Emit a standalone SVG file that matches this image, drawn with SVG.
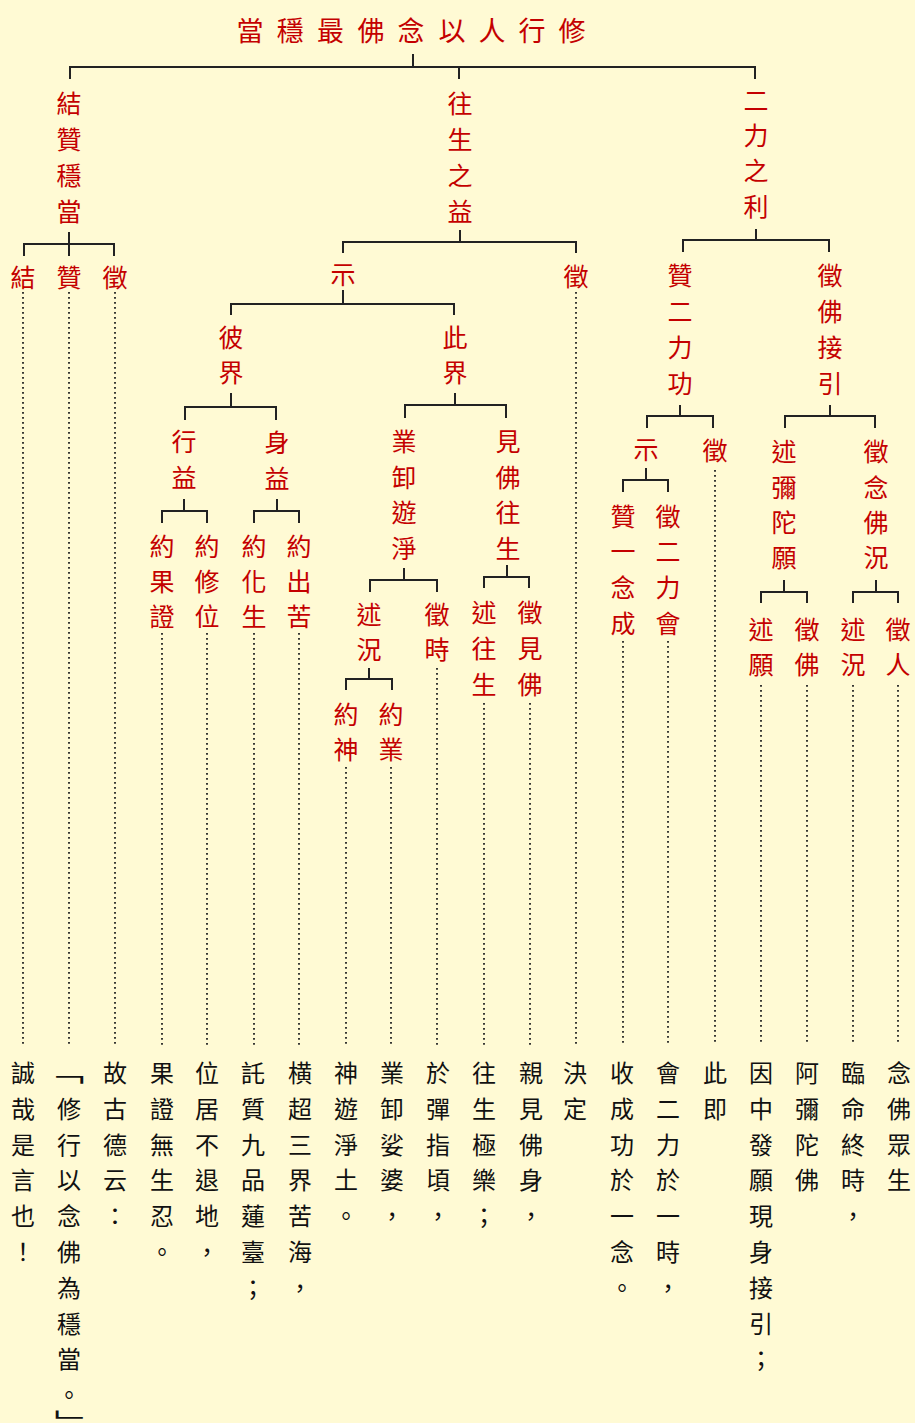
<svg xmlns="http://www.w3.org/2000/svg" width="915" height="1423" viewBox="0 0 915 1423">
<style>
.n{font-family:"Noto Sans CJK TC","Noto Sans CJK SC",sans-serif;font-size:25px;fill:#c40000;text-anchor:middle;dominant-baseline:central}
.h{font-family:"Noto Sans CJK TC","Noto Sans CJK SC",sans-serif;font-size:27px;fill:#c40000;text-anchor:middle;dominant-baseline:central}
.t{font-family:"Noto Sans CJK TC","Noto Sans CJK SC",sans-serif;font-size:24px;fill:#111;text-anchor:middle;dominant-baseline:central}
.b{fill:none;stroke:#222;stroke-width:2}
.d{fill:none;stroke:#222;stroke-width:1.8;stroke-dasharray:1.8 3.2}
</style>
<rect x="0" y="0" width="915" height="1423" fill="#fffad4"/>
<g id="connectors">
<path class="b" d="M413,54V67M70,79V67H755V79M459,67V79"/>
<path class="b" d="M69,232V256M24,256V244H114V256"/>
<path class="b" d="M460,230V242M343,253V242H576V253"/>
<path class="b" d="M756,229V240M683,252V240H829V252"/>
<path class="b" d="M343,290V304M231,315V304H454V315"/>
<path class="b" d="M231,393V407M185,420V407H276V420"/>
<path class="b" d="M455,393V405M405,418V405H506V418"/>
<path class="b" d="M184,499V511M162,523V511H207V523"/>
<path class="b" d="M277,499V511M254,523V511H299V523"/>
<path class="b" d="M404,568V580M370,592V580H437V592"/>
<path class="b" d="M507,565V577M484,588V577H529V588"/>
<path class="b" d="M369,668V679M346,690V679H392V690"/>
<path class="b" d="M680,405V416M647,428V416H713V428"/>
<path class="b" d="M830,405V416M785,428V416H875V428"/>
<path class="b" d="M646,468V480M623,492V480H668V492"/>
<path class="b" d="M784,580V592M761,603V592H807V603"/>
<path class="b" d="M876,580V592M853,603V592H898V603"/>
<path class="d" d="M23,292V1045M69,292V1045M115,292V1045M576,292V1045"/>
<path class="d" d="M162,633V1045M207,633V1045M254,633V1045M299,633V1045"/>
<path class="d" d="M346,767V1045M391,767V1045M437,668V1045M484,703V1045M530,703V1045"/>
<path class="d" d="M623,641V1045M668,641V1045M715,470V1045"/>
<path class="d" d="M761,685V1045M807,685V1045M853,685V1045M898,685V1045"/>
</g>
<g id="root"><text class="h" x="250 290.3 330.6 371 411 452 492 532 572" y="29">當穩最佛念以人行修</text></g>
<g id="n-jiezan"><text class="n" x="69 69 69 69" y="102 138 174 210">結贊穩當</text></g>
<g id="n-wangsheng"><text class="n" x="460 460 460 460" y="102 138 174 210">往生之益</text></g>
<g id="n-erli"><text class="n" x="756 756 756 756" y="99 134 169 205">二力之利</text></g>
<g id="n-jie"><text class="n" x="23" y="276">結</text></g>
<g id="n-zan"><text class="n" x="69" y="276">贊</text></g>
<g id="n-zheng1"><text class="n" x="115" y="276">徵</text></g>
<g id="n-shi1"><text class="n" x="343" y="273">示</text></g>
<g id="n-zheng2"><text class="n" x="576" y="275">徵</text></g>
<g id="n-zanerli"><text class="n" x="680 680 680 680" y="274 310 346 382">贊二力功</text></g>
<g id="n-zhengfo"><text class="n" x="830 830 830 830" y="274 310 346 382">徵佛接引</text></g>
<g id="n-bijie"><text class="n" x="231 231" y="336 371">彼界</text></g>
<g id="n-cijie"><text class="n" x="455 455" y="336 371">此界</text></g>
<g id="n-xingyi"><text class="n" x="184 184" y="440 476">行益</text></g>
<g id="n-shenyi"><text class="n" x="277 277" y="441 477">身益</text></g>
<g id="n-yueguo"><text class="n" x="162 162 162" y="545 580 615">約果證</text></g>
<g id="n-yuexiu"><text class="n" x="207 207 207" y="545 580 615">約修位</text></g>
<g id="n-yuehua"><text class="n" x="254 254 254" y="545 580 615">約化生</text></g>
<g id="n-yuechu"><text class="n" x="299 299 299" y="545 580 615">約出苦</text></g>
<g id="n-yexie"><text class="n" x="404 404 404 404" y="440 476 511 547">業卸遊淨</text></g>
<g id="n-jianfo"><text class="n" x="508 508 508 508" y="440 476 511 547">見佛往生</text></g>
<g id="n-shukuang1"><text class="n" x="369 369" y="613 648">述況</text></g>
<g id="n-zhengshi"><text class="n" x="437 437" y="613 648">徵時</text></g>
<g id="n-yueshen"><text class="n" x="346 346" y="713 748">約神</text></g>
<g id="n-yueye"><text class="n" x="391 391" y="713 748">約業</text></g>
<g id="n-shuwang"><text class="n" x="484 484 484" y="611 647 683">述往生</text></g>
<g id="n-zhengjian"><text class="n" x="530 530 530" y="611 647 683">徵見佛</text></g>
<g id="n-shi2"><text class="n" x="646" y="448">示</text></g>
<g id="n-zheng3"><text class="n" x="715" y="449">徵</text></g>
<g id="n-zanyi"><text class="n" x="623 623 623 623" y="515 550 586 622">贊一念成</text></g>
<g id="n-zhenger"><text class="n" x="668 668 668 668" y="515 550 586 622">徵二力會</text></g>
<g id="n-shumi"><text class="n" x="784 784 784 784" y="450 486 521 556">述彌陀願</text></g>
<g id="n-zhengnian"><text class="n" x="876 876 876 876" y="450 486 521 556">徵念佛況</text></g>
<g id="n-shuyuan"><text class="n" x="761 761" y="628 663">述願</text></g>
<g id="n-zhengfo2"><text class="n" x="807 807" y="628 663">徵佛</text></g>
<g id="n-shukuang2"><text class="n" x="853 853" y="628 663">述況</text></g>
<g id="n-zhengren"><text class="n" x="898 898" y="628 663">徵人</text></g>
<g id="texts">
<text class="t" x="23 23 23 23 23 23" y="1071 1107 1143 1178 1214 1250">誠哉是言也！</text>
<text class="t" transform="translate(65,1071) scale(1.6,1)" x="0" y="0">﹁</text>
<text class="t" x="69 69 69 69 69 69 69 69 69" y="1107 1143 1178 1214 1250 1286 1322 1357 1393">修行以念佛為穩當。</text>
<text class="t" transform="translate(74,1421) scale(1.6,1)" x="0" y="0">﹂</text>
<text class="t" x="115 115 115 115 115" y="1071 1107 1143 1178 1214">故古德云：</text>
<text class="t" x="162 162 162 162 162 162" y="1071 1107 1143 1178 1214 1250">果證無生忍。</text>
<text class="t" x="207 207 207 207 207 207" y="1071 1107 1143 1178 1214 1250">位居不退地，</text>
<text class="t" x="253 253 253 253 253 253 253" y="1071 1107 1143 1178 1214 1250 1286">託質九品蓮臺；</text>
<text class="t" x="300 300 300 300 300 300 300" y="1071 1107 1143 1178 1214 1250 1286">横超三界苦海，</text>
<text class="t" x="346 346 346 346 346" y="1071 1107 1143 1178 1214">神遊淨土。</text>
<text class="t" x="392 392 392 392 392" y="1071 1107 1143 1178 1214">業卸娑婆，</text>
<text class="t" x="438 438 438 438 438" y="1071 1107 1143 1178 1214">於彈指頃，</text>
<text class="t" x="484 484 484 484 484" y="1071 1107 1143 1178 1214">往生極樂；</text>
<text class="t" x="531 531 531 531 531" y="1071 1107 1143 1178 1214">親見佛身，</text>
<text class="t" x="575 575" y="1071 1107">決定</text>
<text class="t" x="622 622 622 622 622 622 622" y="1071 1107 1143 1178 1214 1250 1286">收成功於一念。</text>
<text class="t" x="668 668 668 668 668 668 668" y="1071 1107 1143 1178 1214 1250 1286">會二力於一時，</text>
<text class="t" x="715 715" y="1071 1107">此即</text>
<text class="t" x="761 761 761 761 761 761 761 761 761" y="1071 1107 1143 1178 1214 1250 1286 1322 1357">因中發願現身接引；</text>
<text class="t" x="807 807 807 807" y="1071 1107 1143 1178">阿彌陀佛</text>
<text class="t" x="853 853 853 853 853" y="1071 1107 1143 1178 1214">臨命終時，</text>
<text class="t" x="899 899 899 899" y="1071 1107 1143 1178">念佛眾生</text>
</g>
</svg>
